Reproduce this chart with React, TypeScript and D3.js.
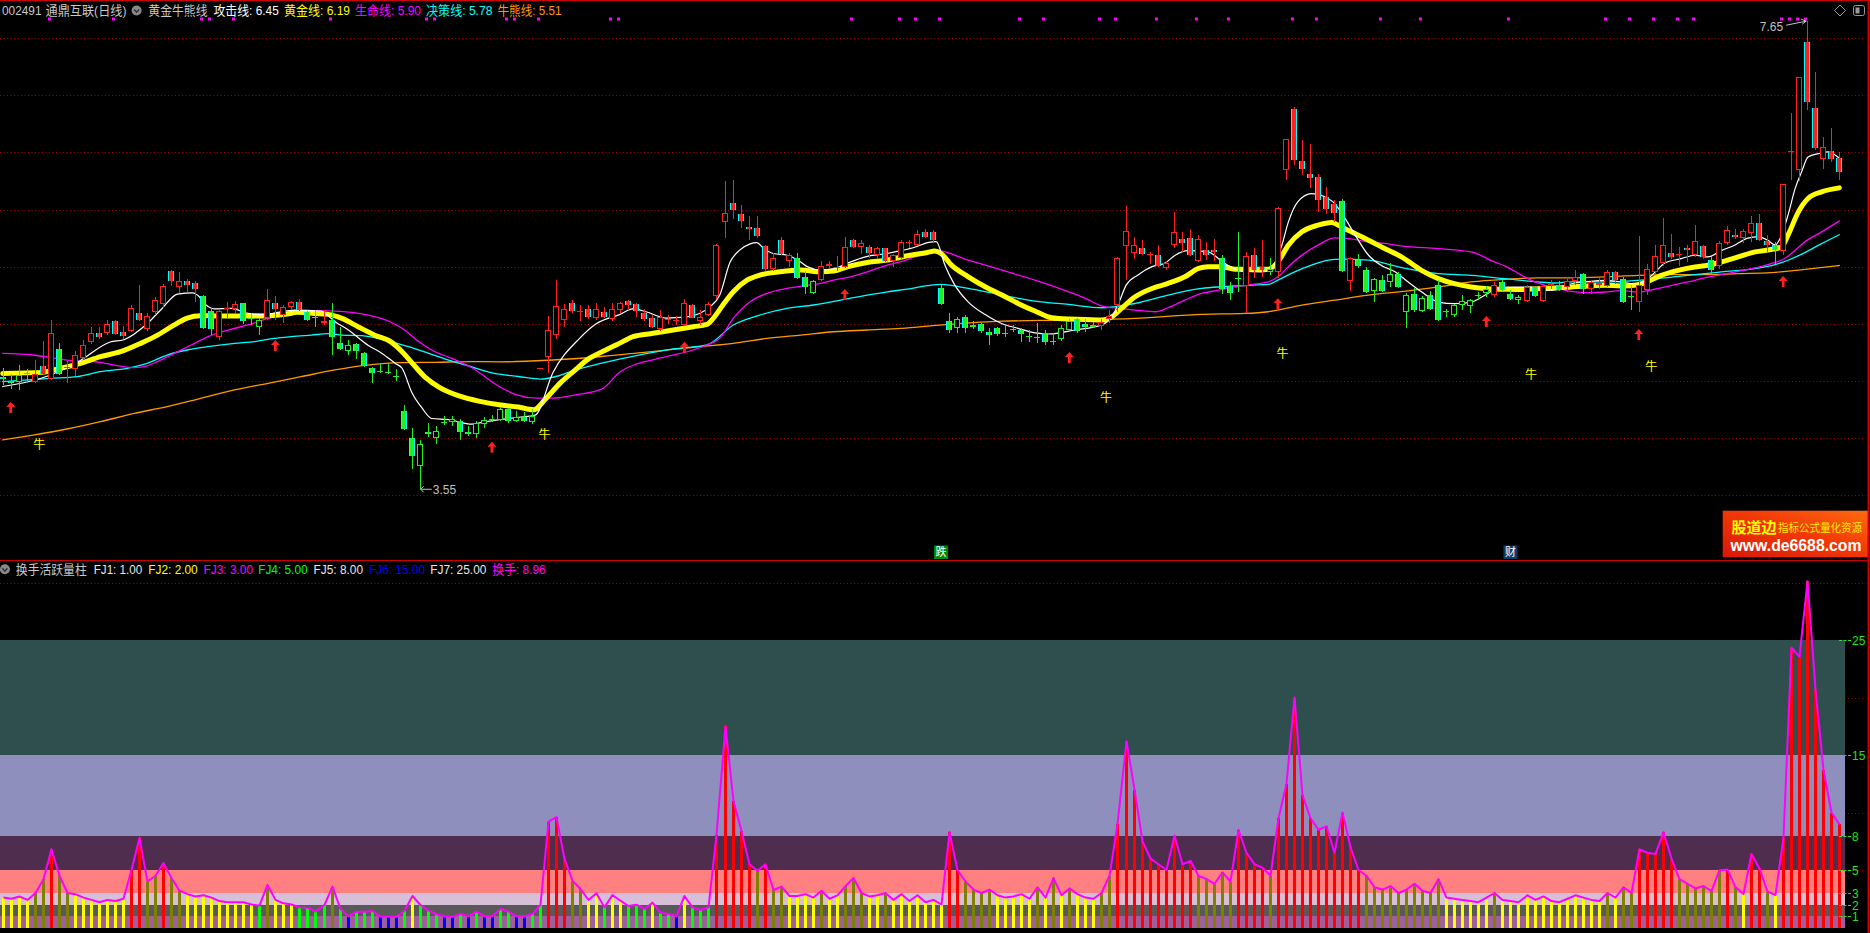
import React, { useEffect, useRef } from 'react';
import * as d3 from 'd3';

// ---------------- data ----------------
const OPEN = [
  4.53,4.50,4.49,4.57,4.49,4.63,4.52,4.78,4.61,4.60,
  4.70,4.84,4.92,4.92,5.02,4.93,4.94,5.09,4.95,5.10,
  5.17,5.46,5.32,5.37,5.36,5.24,5.11,4.88,5.13,5.13,
  5.18,5.05,4.97,5.05,5.18,5.08,5.15,5.19,5.10,5.06,
  5.01,5.03,4.83,4.76,4.82,4.74,4.61,4.59,4.58,4.54,
  4.24,4.00,3.75,4.05,4.00,4.14,4.14,4.15,4.05,4.03,
  4.12,4.17,4.16,4.25,4.15,4.18,4.14,4.60,4.71,4.90,
  5.03,5.18,5.11,5.13,5.05,5.10,5.04,5.12,5.20,5.17,
  5.09,5.05,4.95,5.04,5.03,4.99,5.16,5.02,5.08,5.24,
  5.89,6.06,5.96,5.85,5.84,5.68,5.48,5.73,5.55,5.58,
  5.41,5.27,5.38,5.51,5.50,5.50,5.73,5.67,5.67,5.60,
  5.66,5.55,5.58,5.71,5.69,5.80,5.80,5.31,5.02,4.965,
  5.06,4.97,5.00,4.925,4.965,4.92,4.95,4.945,4.895,4.886,
  4.915,4.845,4.863,4.945,5.041,4.994,4.968,4.983,5.038,5.163,
  5.682,5.621,5.659,5.615,5.606,5.484,5.694,5.738,5.755,5.551,
  5.65,5.644,5.58,5.332,5.402,5.329,5.606,5.499,5.455,5.449,
  6.347,6.883,6.423,6.309,6.283,6.108,6.047,6.073,5.376,5.557,
  5.469,5.289,5.382,5.362,5.44,5.10,5.264,5.109,5.255,5.337,
  5.11,5.079,5.167,5.155,5.249,5.272,5.255,5.366,5.264,5.205,
  5.196,5.322,5.199,5.35,5.337,5.322,5.375,5.433,5.302,5.337,
  5.331,5.454,5.395,5.24,5.19,5.293,5.454,5.535,5.62,5.615,
  5.667,5.60,5.679,5.556,5.506,5.711,5.781,5.752,5.799,5.878,
  5.726,5.687,5.635,6.51,6.345,7.471,6.886,6.442,6.512,6.448,
];
const HIGH = [
  4.61,4.56,4.64,4.60,4.68,4.85,5.03,4.83,4.67,4.76,
  4.86,4.97,4.97,5.03,5.03,4.98,5.16,5.34,5.09,5.23,
  5.35,5.47,5.45,5.39,5.37,5.25,5.14,5.12,5.19,5.20,
  5.18,5.09,5.05,5.30,5.24,5.16,5.20,5.22,5.11,5.12,
  5.12,5.18,4.97,4.86,4.83,4.75,4.62,4.65,4.66,4.60,
  4.29,4.09,3.98,4.13,4.10,4.19,4.19,4.17,4.10,4.15,
  4.18,4.20,4.27,4.26,4.24,4.23,4.25,4.61,5.07,5.38,
  5.17,5.21,5.16,5.16,5.18,5.15,5.18,5.19,5.21,5.18,
  5.13,5.08,5.12,5.08,5.07,5.22,5.17,5.12,5.19,5.70,
  6.25,6.26,6.04,5.94,5.94,5.69,5.62,5.76,5.62,5.62,
  5.46,5.38,5.55,5.55,5.59,5.76,5.74,5.73,5.69,5.67,
  5.66,5.61,5.73,5.73,5.82,5.83,5.82,5.34,5.09,5.06,
  5.075,5.02,5.01,4.96,4.97,4.99,4.99,4.96,4.945,5.01,
  4.945,4.915,4.988,5.04,5.05,5.04,5.017,5.04,5.12,5.586,
  6.03,5.76,5.73,5.63,5.688,5.548,5.98,5.80,5.834,5.78,
  5.717,5.74,5.606,5.367,5.805,5.624,5.665,5.73,5.58,6.02,
  6.62,6.90,6.606,6.577,6.315,6.198,6.082,6.096,5.586,5.615,
  5.499,5.40,5.426,5.528,5.455,5.265,5.32,5.24,5.29,5.38,
  5.13,5.176,5.255,5.22,5.28,5.331,5.366,5.38,5.293,5.255,
  5.337,5.331,5.342,5.38,5.375,5.41,5.468,5.448,5.375,5.41,
  5.468,5.46,5.41,5.342,5.766,5.527,5.687,5.927,5.79,5.673,
  5.687,5.869,5.693,5.585,5.723,5.857,5.834,5.834,5.94,5.965,
  5.775,5.717,6.22,6.842,7.16,7.65,7.202,6.638,6.717,6.50,
];
const LOW = [
  4.46,4.43,4.42,4.49,4.48,4.55,4.51,4.55,4.48,4.54,
  4.69,4.82,4.87,4.90,4.90,4.87,4.93,5.02,4.94,5.08,
  5.14,5.33,5.27,5.28,5.19,4.95,4.90,4.86,5.05,5.09,
  5.00,4.99,4.90,5.03,5.03,5.01,5.12,5.11,5.02,4.97,
  4.99,4.73,4.77,4.73,4.69,4.62,4.48,4.57,4.56,4.50,
  4.07,3.73,3.55,4.01,3.95,4.11,4.10,3.98,4.02,4.00,
  4.09,4.14,4.15,4.13,4.14,4.14,4.12,4.60,4.57,4.87,
  4.97,5.09,5.02,5.04,5.03,5.05,5.02,5.09,5.12,5.06,
  5.02,4.96,4.94,5.00,4.99,4.98,5.05,4.99,5.07,5.22,
  5.75,5.92,5.84,5.73,5.75,5.46,5.46,5.60,5.50,5.39,
  5.26,5.26,5.37,5.48,5.46,5.49,5.66,5.61,5.58,5.57,
  5.54,5.50,5.57,5.66,5.68,5.75,5.72,5.16,4.92,4.915,
  4.915,4.95,4.915,4.81,4.895,4.88,4.924,4.84,4.837,4.83,
  4.81,4.81,4.85,4.936,4.915,4.924,4.959,4.945,5.01,5.105,
  5.382,5.571,5.606,5.519,5.499,5.469,5.659,5.63,5.595,5.542,
  5.557,5.551,5.257,5.207,5.274,5.09,5.397,5.41,5.43,5.397,
  6.257,6.394,6.30,6.19,5.98,5.965,5.89,5.455,5.286,5.49,
  5.265,5.19,5.274,5.324,5.315,4.959,5.10,5.10,5.117,5.02,
  5.06,5.059,5.117,5.09,5.22,5.234,5.234,5.28,5.205,5.176,
  5.19,5.234,5.19,5.30,5.284,5.28,5.342,5.264,5.264,5.302,
  5.322,5.351,5.184,5.117,5.103,5.249,5.44,5.506,5.57,5.51,
  5.54,5.585,5.57,5.424,5.483,5.687,5.746,5.711,5.717,5.723,
  5.63,5.527,5.606,6.258,6.249,6.87,6.52,6.351,6.418,6.258,
];
const CLOSE = [
  4.52,4.48,4.55,4.56,4.56,4.56,4.92,4.56,4.62,4.73,
  4.81,4.92,4.88,5.00,4.91,4.89,5.14,5.03,5.07,5.21,
  5.33,5.37,5.37,5.34,5.30,4.96,4.95,5.11,5.14,5.17,
  5.02,5.04,5.03,5.21,5.13,5.15,5.19,5.12,5.03,5.06,
  5.02,4.88,4.78,4.81,4.76,4.63,4.57,4.59,4.58,4.53,
  4.08,3.84,3.95,4.03,4.06,4.13,4.17,4.05,4.03,4.13,
  4.16,4.17,4.25,4.15,4.18,4.15,4.19,4.61,4.945,5.155,
  5.13,5.11,5.11,5.06,5.13,5.06,5.13,5.18,5.16,5.11,
  5.04,4.97,5.06,5.04,5.03,5.18,5.05,5.06,5.17,5.69,
  5.97,6.00,5.90,5.83,5.77,5.48,5.58,5.61,5.60,5.40,
  5.32,5.37,5.51,5.52,5.50,5.67,5.67,5.71,5.62,5.66,
  5.55,5.60,5.72,5.72,5.79,5.76,5.73,5.17,4.945,5.04,
  4.96,4.99,4.94,4.90,4.907,4.92,4.95,4.91,4.89,4.886,
  4.837,4.843,4.959,5.026,4.936,4.968,4.988,5.017,5.067,5.58,
  5.81,5.694,5.615,5.612,5.507,5.536,5.805,5.711,5.601,5.746,
  5.606,5.624,5.30,5.265,5.40,5.589,5.475,5.472,5.478,6.017,
  6.615,6.431,6.359,6.28,6.082,6.003,5.974,5.461,5.58,5.507,
  5.274,5.388,5.289,5.44,5.324,5.25,5.117,5.225,5.132,5.03,
  5.109,5.167,5.196,5.205,5.249,5.302,5.342,5.299,5.22,5.234,
  5.322,5.243,5.331,5.351,5.293,5.372,5.41,5.307,5.366,5.36,
  5.454,5.38,5.19,5.24,5.342,5.483,5.591,5.687,5.585,5.614,
  5.644,5.723,5.585,5.468,5.711,5.825,5.761,5.81,5.878,5.737,
  5.693,5.644,6.22,6.506,7.158,6.945,6.541,6.544,6.439,6.331,
];
// candle tone: r = red, g = green
const TONE = [
  'ggggrrrgrr','rrrrrrrrrr','rrrrrggrrr','gggrrrrrgg','rggggggggg',
  'gggggggggg','gggggggrrr','rrrrrrrrrr','rrrrrrrrrr','rrrrrrrrrg',
  'ggrrrrrrrr','rrrrrrrggg','gggggggggg','gggggggrrr','rrrrrrrrrr',
  'rrgggrrrgr','rrrrrrrgrg','gggggggggg','ggggggrggg','rgrrgrrgrr',
  'rrggrrrrrr','rrrgrrrrrr','rgrrrrrrrr',
].join('');

const TURNOVER = [
  2.6,2.5,2.7,2.4,3.0,4.2,6.8,4.5,3.0,2.9,
  2.6,2.4,2.2,2.4,2.3,2.5,5.0,7.8,4.0,4.5,
  5.6,4.3,3.2,2.9,2.7,2.8,2.6,2.3,2.2,2.2,
  2.2,2.0,1.9,3.7,2.4,2.1,2.0,1.75,1.72,1.38,
  1.96,3.55,1.61,0.98,1.38,1.38,1.44,0.94,0.94,0.94,
  1.46,2.74,1.96,1.46,1.15,0.98,0.94,1.17,0.99,1.38,
  0.97,0.99,1.61,1.38,0.97,0.99,1.17,1.96,9.2,9.6,
  5.96,4.07,3.35,2.39,2.98,1.75,2.82,2.33,1.87,1.98,
  1.61,2.16,1.29,1.17,0.99,2.74,1.75,1.52,1.75,8.04,
  17.5,11.0,8.39,5.49,4.94,5.49,3.26,3.55,2.74,2.74,
  2.9,2.6,3.2,2.5,2.8,3.6,4.3,3.0,2.7,2.8,
  3.0,2.4,2.9,2.3,2.8,2.2,2.4,2.0,8.3,5.0,
  4.0,3.3,3.0,3.3,2.8,2.6,2.7,2.9,2.5,3.5,
  2.6,4.3,2.8,3.4,2.9,2.6,2.5,3.0,4.5,9.0,
  16.2,12.0,7.5,6.0,5.5,5.0,8.0,5.5,5.8,4.5,
  4.2,3.8,4.8,4.0,8.5,6.5,5.5,5.2,4.5,9.5,
  12.5,20.0,11.5,9.5,8.5,8.8,6.5,10.0,7.0,5.0,
  4.5,3.5,3.3,3.6,3.0,3.3,3.8,3.2,3.0,4.2,
  2.6,2.5,2.4,2.3,2.2,2.6,3.0,2.4,2.3,2.2,
  2.8,2.4,2.7,2.3,2.2,2.5,2.8,2.6,2.4,2.3,
  3.0,2.6,3.5,3.0,6.8,6.5,6.4,8.3,6.0,4.2,
  3.8,3.4,3.61,3.17,4.98,5.05,3.49,2.91,6.39,5.14,
  3.12,2.83,7.81,24.33,23.55,30.1,20.71,13.7,10.0,8.96,
];

// indicator lines: [bar index, price]
const WHITE_LINE: [number, number][] = [
  [0,4.45],[4.7,4.52],[9.5,4.67],[13.4,4.84],[15.1,4.86],[18,5.0],[19.7,5.12],[21.8,5.26],[23.7,5.27],[24.3,5.25],
  [25.6,5.15],[26.4,5.13],[28.5,5.135],[30.6,5.09],[32.7,5.08],[34.3,5.1],[36.4,5.12],[39.7,5.11],[41.4,5.02],[43.1,4.945],
  [45.6,4.81],[47.3,4.74],[49,4.65],[49.8,4.61],[51,4.4],[52.3,4.26],[53.5,4.17],[55.6,4.16],[58.5,4.12],[60,4.14],
  [64.3,4.18],[66.4,4.2],[68.6,4.57],[71.9,4.87],[74,5.0],[76.9,5.08],[78.6,5.13],[80.2,5.105],[82.7,5.05],[85.3,5.06],
  [88.2,5.15],[89.4,5.25],[90.7,5.54],[91.9,5.645],[93.2,5.7],[94,5.71],[94.9,5.66],[96.1,5.615],[97.8,5.6],[99.5,5.54],
  [100.3,5.5],[102,5.47],[103.6,5.48],[105.3,5.53],[107.8,5.59],[110.3,5.615],[112,5.64],[113.7,5.67],[115.3,5.71],[116.4,5.72],
  [117.5,5.51],[118.7,5.34],[120.4,5.19],[122.5,5.08],[124.6,5.0],[126.6,4.96],[128.7,4.92],[130.4,4.91],[133.7,4.945],[137,4.99],
  [138.3,5.06],[139.2,5.19],[140.1,5.34],[141.6,5.43],[143.3,5.5],[144.9,5.53],[146.2,5.6],[147.8,5.64],[150.3,5.63],[151.6,5.57],
  [152.8,5.51],[154.5,5.46],[157,5.455],[158.2,5.48],[159.5,5.69],[160.3,5.89],[161.5,6.07],[163.2,6.14],[164.4,6.125],[166.1,6.05],
  [167.4,5.92],[168.6,5.78],[170.3,5.6],[171.9,5.51],[173.6,5.455],[174.8,5.39],[176.9,5.28],[179,5.19],[181,5.176],[183.1,5.19],
  [184.8,5.25],[186.4,5.31],[188.5,5.32],[190.6,5.32],[192.3,5.29],[193.9,5.3],[195.6,5.35],[197.7,5.37],[199.8,5.38],[201.4,5.37],
  [203.5,5.35],[204.7,5.37],[206,5.45],[207.2,5.53],[209.3,5.57],[211,5.6],[212.6,5.585],[214.3,5.64],[216,5.69],[217.6,5.75],
  [218.9,5.76],[220.1,5.73],[221,5.69],[221.8,5.775],[222.6,5.95],[223.5,6.185],[224.3,6.33],[225.1,6.46],[226.4,6.49],[227.6,6.506],
  [229,6.45],
];
const YELLOW_LINE: [number, number][] = [
  [0,4.565],[5,4.574],[6.3,4.595],[9.7,4.653],[12.2,4.712],[14.7,4.755],[17.2,4.828],[19.3,4.9],[21.4,4.99],[23,5.05],
  [24.7,5.07],[26.8,5.068],[28.9,5.068],[31.4,5.068],[33.1,5.07],[35.2,5.082],[36.8,5.1],[38.9,5.09],[40.6,5.082],[42.3,5.047],
  [44.3,4.974],[46.4,4.9],[48.5,4.837],[49.8,4.755],[51,4.66],[52.7,4.53],[54.5,4.44],[56.8,4.37],[59.5,4.32],[61.9,4.29],
  [64.3,4.27],[66.2,4.246],[67.6,4.334],[69.5,4.48],[71.4,4.596],[73,4.69],[75.2,4.77],[76.9,4.828],[78.6,4.887],[81.1,4.916],
  [83.6,4.945],[86.1,4.974],[87.8,4.994],[88.6,5.047],[89.8,5.164],[91.1,5.28],[92.8,5.382],[94.4,5.426],[96.9,5.455],[99.5,5.47],
  [102,5.455],[103.6,5.461],[105.3,5.499],[107.8,5.537],[110.3,5.557],[112.8,5.595],[115.3,5.624],[116.2,5.636],[117,5.615],[118.3,5.513],
  [120.4,5.411],[122.5,5.324],[124.6,5.251],[126.6,5.178],[128.7,5.111],[130.8,5.052],[132.9,5.041],[135,5.038],[137,5.032],[138.3,5.061],
  [139.5,5.134],[141.2,5.236],[143.3,5.309],[145.3,5.353],[147.4,5.411],[149.1,5.484],[150.3,5.499],[152,5.499],[153.6,5.478],[155.7,5.478],
  [157.8,5.478],[159,5.542],[160.3,5.688],[162,5.805],[164,5.863],[165.7,5.886],[166.9,5.848],[168.6,5.79],[170.3,5.732],[172.3,5.659],
  [174.4,5.586],[176.9,5.468],[179,5.395],[181,5.351],[183.1,5.322],[185.2,5.307],[187.3,5.302],[189.4,5.299],[191.4,5.307],[193.5,5.313],
  [195.6,5.322],[197.7,5.331],[199.8,5.337],[201.8,5.331],[203.9,5.342],[205.2,5.372],[206.8,5.424],[208.9,5.468],[211,5.497],[212.6,5.512],
  [214.3,5.541],[216.4,5.585],[218.5,5.629],[220.5,5.65],[221.8,5.673],[222.6,5.775],[223.9,5.98],[225.1,6.097],[226.8,6.155],[229,6.19],
];
const MAGENTA_LINE: [number, number][] = [
  [0,4.74],[3.8,4.726],[8,4.682],[12.2,4.662],[14.3,4.633],[16.4,4.615],[17.6,4.624],[19.3,4.668],[21.4,4.741],[23.5,4.814],
  [25.6,4.887],[28.1,4.945],[30.6,4.989],[33.1,5.047],[35.2,5.082],[37.2,5.106],[39.7,5.114],[41.4,5.111],[43.5,5.1],[45.6,5.076],
  [48.1,5.024],[49.8,4.96],[51.9,4.843],[53.9,4.755],[56,4.697],[58.5,4.615],[61.9,4.45],[64,4.38],[66.7,4.348],[68.6,4.348],
  [71.4,4.377],[74.7,4.427],[77,4.58],[82,4.7],[86.1,4.77],[87.8,4.814],[89.4,4.872],[91.1,5.047],[93.2,5.193],[95.3,5.266],
  [97.8,5.309],[99.9,5.333],[102,5.353],[103.6,5.382],[105.7,5.411],[107.8,5.455],[110.3,5.513],[112,5.543],[113.7,5.586],[115.3,5.624],
  [116.3,5.644],[120.4,5.557],[124.6,5.469],[128.7,5.382],[132.9,5.28],[135,5.222],[137,5.157],[139.1,5.134],[141.2,5.12],[143.7,5.105],
  [145.3,5.14],[147.4,5.207],[149.5,5.265],[151.6,5.294],[153.6,5.324],[155.7,5.344],[157.8,5.367],[159,5.411],[160.3,5.499],[162,5.601],
  [164,5.688],[166.1,5.752],[167.8,5.746],[170.3,5.717],[172.3,5.703],[174.6,5.68],[179,5.658],[183.1,5.629],[186,5.541],[187.3,5.506],
  [189.4,5.424],[190.6,5.38],[192.3,5.337],[194.3,5.302],[195.6,5.284],[197.7,5.272],[199.8,5.278],[201.8,5.29],[203.9,5.278],[206,5.302],
  [208.1,5.337],[210.1,5.366],[212.2,5.401],[214.3,5.43],[216.4,5.459],[218.5,5.489],[220.5,5.527],[222.2,5.571],[223.5,5.644],[224.7,5.717],
  [226.8,5.805],[229,5.9],
];
const CYAN_LINE: [number, number][] = [
  [0,4.493],[5.9,4.522],[9.3,4.536],[12.2,4.58],[15.5,4.609],[18,4.653],[20.5,4.726],[23,4.77],[25.6,4.799],[28.9,4.828],
  [31.4,4.843],[33.9,4.872],[36,4.887],[38.5,4.901],[40.6,4.913],[42.3,4.901],[44.8,4.895],[47.7,4.857],[50.6,4.799],[53.1,4.741],
  [55.6,4.682],[58.1,4.63],[61,4.57],[64.3,4.538],[67.1,4.515],[69,4.538],[71.4,4.596],[74.7,4.654],[79,4.72],[83.6,4.779],
  [87.8,4.814],[91.1,4.989],[94.4,5.076],[97.8,5.134],[101.1,5.164],[104.5,5.207],[107.8,5.251],[110.3,5.28],[112.8,5.303],[115.3,5.333],
  [117,5.344],[120.4,5.309],[124.6,5.251],[128.7,5.198],[132.9,5.169],[137,5.14],[141.2,5.178],[145.3,5.251],[149.5,5.309],[152,5.324],
  [155.7,5.338],[157.8,5.344],[159,5.382],[161.1,5.455],[163.2,5.513],[165.3,5.557],[166.9,5.566],[170.3,5.557],[174.6,5.49],[179,5.439],
  [183.1,5.424],[187.3,5.395],[191.4,5.366],[193.5,5.357],[195.6,5.366],[199.8,5.366],[203.9,5.38],[206.4,5.395],[210.1,5.424],[214.3,5.454],
  [218.5,5.483],[221,5.518],[222.6,5.556],[224.7,5.623],[226.8,5.702],[229,5.78],
];
const ORANGE_LINE: [number, number][] = [
  [0,3.982],[3.8,4.025],[8,4.078],[12.2,4.142],[16.4,4.215],[20.5,4.274],[24.7,4.347],[28.9,4.42],[33.1,4.478],[37.2,4.536],
  [41.4,4.595],[44.8,4.633],[47.7,4.653],[49.8,4.659],[53.9,4.662],[58.5,4.668],[61.9,4.666],[68,4.68],[74.7,4.713],[80,4.75],
  [87,4.799],[91.1,4.828],[95.3,4.872],[99.5,4.901],[103.6,4.93],[107.8,4.945],[112,4.959],[117.2,4.99],[124.6,5.023],[132.9,5.032],
  [141.2,5.047],[149.5,5.082],[154.9,5.09],[157.8,5.105],[162,5.163],[166.1,5.207],[170.3,5.251],[175,5.285],[179,5.322],[183.1,5.366],
  [187.3,5.389],[191.4,5.401],[195.6,5.401],[199.8,5.41],[203.9,5.424],[208.1,5.43],[212.2,5.43],[216.4,5.439],[220.5,5.448],[224.7,5.477],
  [229,5.51],
];

// signal marks: [bar index, price]
const UP_ARROWS: [number, number][] = [
  [1,4.314],[34,4.857],[61,3.967],[85,4.842],[105,5.304],[133,4.752],[159,5.224],[185,5.067],[204,4.954],[222,5.418],
];
const NIU_MARKS: [number, number][] = [
  [4,3.95],[67,4.043],[137,4.367],[159,4.752],[190,4.568],[205,4.63],
];
const TOP_DOTS = [6,14,25,26,29,41,53,54,63,64,67,76,77,106,112,114,117,127,130,137,139,144,149,153,161,164,172,177,188,200,203,206,209,211,222,223,224,225];
const BADGE_IDX = [117, 188];
const BADGE_TEXT = ['跌', '财'];

const PRICE_GRID = [3.5, 4, 4.5, 5, 5.5, 6, 6.5, 7, 7.5];
const FJ_LEVELS = [1, 2, 3, 5, 8, 15, 25];
const VOL_GRID = [5, 10, 20, 30];

const STOCK_CODE = '002491';
const STOCK_NAME = '通鼎互联(日线)';
const IND1_NAME = '黄金牛熊线';
const IND2_NAME = '换手活跃量柱';

// ---------------- layout ----------------
const W = 1870, H = 933;
const FONT = "'Liberation Sans', Arial, 'Noto Sans CJK SC', sans-serif";
const CJK = "'Noto Sans CJK SC', 'Liberation Sans', sans-serif";

export default function App() {
  const ref = useRef<SVGSVGElement>(null);

  useEffect(() => {
    const svg = d3.select(ref.current);
    svg.selectAll('*').remove();
    const N = OPEN.length;

    const x = d3.scaleLinear().domain([0, N - 1]).range([2.7, 1839.3]);
    const y = d3.scaleLinear().domain([3.5, 7.5]).range([495, 38.3]);
    const yv = d3.scaleLinear().domain([0, 25]).range([927.5, 640]);

    svg.append('rect').attr('width', W).attr('height', H).attr('fill', '#000');

    // ---------- top panel grid ----------
    svg.append('g').selectAll('line').data(PRICE_GRID).join('line')
      .attr('x1', 0).attr('x2', 1866)
      .attr('y1', d => Math.round(y(d)) + 0.5).attr('y2', d => Math.round(y(d)) + 0.5)
      .attr('stroke', '#a80000').attr('stroke-dasharray', '1 2.5');

    // ---------- indicator lines ----------
    const lineGen = d3.line<[number, number]>()
      .x(d => x(d[0])).y(d => y(d[1])).curve(d3.curveMonotoneX);
    const lines: { pts: [number, number][]; c: string; w: number }[] = [
      { pts: ORANGE_LINE, c: '#ff9900', w: 1.3 },
      { pts: CYAN_LINE, c: '#00ffff', w: 1.3 },
      { pts: MAGENTA_LINE, c: '#ff00ff', w: 1.3 },
      { pts: YELLOW_LINE, c: '#ffff00', w: 5 },
      { pts: WHITE_LINE, c: '#ffffff', w: 1.2 },
    ];
    svg.append('g').selectAll('path').data(lines).join('path')
      .attr('d', d => lineGen(d.pts))
      .attr('fill', 'none').attr('stroke', d => d.c).attr('stroke-width', d => d.w)
      .attr('stroke-linejoin', 'round').attr('stroke-linecap', 'round');

    // ---------- candles ----------
    const cg = svg.append('g').attr('shape-rendering', 'crispEdges');
    for (let i = 0; i < N; i++) {
      const cx = Math.round(x(i));
      const o = OPEN[i], c = CLOSE[i];
      const col = TONE[i] === 'r' ? '#ff2020' : '#22ee22';
      cg.append('line').attr('x1', cx + 0.5).attr('x2', cx + 0.5)
        .attr('y1', y(HIGH[i])).attr('y2', y(LOW[i])).attr('stroke', col);
      const top = Math.round(y(Math.max(o, c)));
      const bot = Math.round(y(Math.min(o, c)));
      const h = bot - top;
      if (h < 2) {
        cg.append('rect').attr('x', cx - 3).attr('y', top).attr('width', 6).attr('height', 1).attr('fill', col);
      } else if (c >= o) {
        cg.append('rect').attr('x', cx - 2.5).attr('y', top + 0.5).attr('width', 5).attr('height', h - 1)
          .attr('fill', '#000').attr('stroke', col);
      } else {
        cg.append('rect').attr('x', cx - 3).attr('y', top).attr('width', 6).attr('height', h).attr('fill', '#00ffff');
        cg.append('rect').attr('x', cx - 2).attr('y', top).attr('width', 4).attr('height', h).attr('fill', col);
      }
    }

    // ---------- signal marks ----------
    const ag = svg.append('g').attr('fill', '#ff2020');
    UP_ARROWS.forEach(([i, p]) => {
      const cx = x(i), t = y(p);
      ag.append('path').attr('d',
        `M${cx},${t} L${cx + 4.5},${t + 5} L${cx + 1.4},${t + 5} L${cx + 1.4},${t + 11} L${cx - 1.4},${t + 11} L${cx - 1.4},${t + 5} L${cx - 4.5},${t + 5} Z`);
    });
    svg.append('g').selectAll('text').data(NIU_MARKS).join('text')
      .attr('x', d => x(d[0]) - 1.5).attr('y', d => y(d[1]))
      .attr('dominant-baseline', 'central')
      .attr('font-family', CJK).attr('font-size', 12).attr('fill', '#ffff00')
      .text('牛');
    svg.append('g').selectAll('rect').data(TOP_DOTS).join('rect')
      .attr('x', d => Math.round(x(d)) - 3).attr('y', 17.5).attr('width', 3).attr('height', 3)
      .attr('fill', '#ff00ff');

    // high / low labels
    const hiIdx = d3.maxIndex(HIGH), loIdx = d3.minIndex(LOW);
    const hx = x(hiIdx), hy = y(HIGH[hiIdx]);
    svg.append('line').attr('x1', hx - 21).attr('y1', hy + 4).attr('x2', hx - 1).attr('y2', hy)
      .attr('stroke', '#c0c0c0');
    svg.append('path').attr('d', `M${hx - 1},${hy} L${hx - 6},${hy - 2} M${hx - 1},${hy} L${hx - 5},${hy + 3}`)
      .attr('stroke', '#c0c0c0').attr('fill', 'none');
    svg.append('text').attr('x', hx - 24).attr('y', hy + 10).attr('text-anchor', 'end')
      .attr('font-family', FONT).attr('font-size', 12).attr('fill', '#c0c0c0')
      .text(HIGH[hiIdx].toFixed(2));
    const lx = x(loIdx), ly = y(LOW[loIdx]);
    svg.append('path').attr('d', `M${lx + 1},${ly} L${lx + 12},${ly} M${lx + 1},${ly} L${lx + 4},${ly - 3} M${lx + 1},${ly} L${lx + 4},${ly + 3}`)
      .attr('stroke', '#c0c0c0').attr('fill', 'none');
    svg.append('text').attr('x', lx + 13).attr('y', ly + 5)
      .attr('font-family', FONT).attr('font-size', 12).attr('fill', '#c0c0c0')
      .text(LOW[loIdx].toFixed(2));

    // badges
    BADGE_IDX.forEach((bi, k) => {
      const cx = x(bi);
      svg.append('rect').attr('x', cx - 7).attr('y', 545.5).attr('width', 14).attr('height', 13.5)
        .attr('fill', k === 0 ? '#008a00' : '#0c3c6c');
      svg.append('text').attr('x', cx).attr('y', 556.2).attr('text-anchor', 'middle')
        .attr('font-family', CJK).attr('font-size', 11).attr('fill', '#ffffff').text(BADGE_TEXT[k]);
    });

    // ---------- frames ----------
    svg.append('line').attr('x1', 0).attr('x2', W).attr('y1', 0.5).attr('y2', 0.5).attr('stroke', '#cc0000');
    svg.append('line').attr('x1', 0).attr('x2', 1868).attr('y1', 560.5).attr('y2', 560.5).attr('stroke', '#cc0000');
    svg.append('line').attr('x1', 1868.5).attr('x2', 1868.5).attr('y1', 0).attr('y2', H).attr('stroke', '#cc0000').attr('stroke-width', 2);

    // top-right icons
    svg.append('path').attr('d', 'M1840,5 L1845.5,10.5 L1840,16 L1834.5,10.5 Z').attr('fill', 'none').attr('stroke', '#9a9a9a');
    svg.append('rect').attr('x', 1853.5).attr('y', 5.5).attr('width', 11).attr('height', 10).attr('rx', 2)
      .attr('fill', 'none').attr('stroke', '#9a9a9a');
    svg.append('rect').attr('x', 1855.5).attr('y', 7.5).attr('width', 4).attr('height', 6).attr('fill', '#9a9a9a');

    // ---------- headers ----------
    const lastOf = (a: [number, number][]) => a[a.length - 1][1].toFixed(2);
    const topHeader = [
      { t: STOCK_CODE, x: 2, w: 39.5, c: '#c8c8c8' },
      { t: STOCK_NAME, x: 45.5, w: 81, c: '#c8c8c8' },
      { t: IND1_NAME, x: 148.3, w: 59.3, c: '#c8c8c8' },
      { t: `攻击线: ${lastOf(WHITE_LINE)}`, x: 213.5, w: 65.3, c: '#ffffff' },
      { t: `黄金线: ${lastOf(YELLOW_LINE)}`, x: 284, w: 66, c: '#ffff00' },
      { t: `生命线: ${lastOf(MAGENTA_LINE)}`, x: 355, w: 66, c: '#ff00ff' },
      { t: `决策线: ${lastOf(CYAN_LINE)}`, x: 426, w: 66.4, c: '#00ffff' },
      { t: `牛熊线: ${lastOf(ORANGE_LINE)}`, x: 497.4, w: 64, c: '#ff9900' },
    ];
    svg.append('g').selectAll('text').data(topHeader).join('text')
      .attr('x', d => d.x).attr('y', 14.5)
      .attr('textLength', d => d.w).attr('lengthAdjust', 'spacingAndGlyphs')
      .attr('font-family', FONT).attr('font-size', 13).attr('fill', d => d.c)
      .text(d => d.t);
    const icon = (cx: number, cy: number) => {
      svg.append('circle').attr('cx', cx).attr('cy', cy).attr('r', 5).attr('fill', '#8a8a8a');
      svg.append('path').attr('d', `M${cx - 2.5},${cy - 1} L${cx},${cy + 1.8} L${cx + 2.5},${cy - 1}`)
        .attr('fill', 'none').attr('stroke', '#303030').attr('stroke-width', 1.4);
    };
    icon(136.6, 10.5);

    const fjColors = ['#e8e8e8', '#ffff00', '#ff00ff', '#00ff00', '#e8e8e8', '#0000ff', '#e8e8e8'];
    const fjX = [93.7, 148.3, 203.6, 258.2, 313.6, 369, 430.2];
    const fjW = [48.6, 49.4, 49.4, 49.4, 49.4, 56, 56.2];
    const botHeader = [
      { t: IND2_NAME, x: 15.8, w: 71, c: '#c8c8c8' },
      ...FJ_LEVELS.map((v, k) => ({ t: `FJ${k + 1}: ${v.toFixed(2)}`, x: fjX[k], w: fjW[k], c: fjColors[k] })),
      { t: `换手: ${TURNOVER[TURNOVER.length - 1].toFixed(2)}`, x: 492.3, w: 53.4, c: '#ff00ff' },
    ];
    svg.append('g').selectAll('text').data(botHeader).join('text')
      .attr('x', d => d.x).attr('y', 573.5)
      .attr('textLength', d => d.w).attr('lengthAdjust', 'spacingAndGlyphs')
      .attr('font-family', FONT).attr('font-size', 13).attr('fill', d => d.c)
      .text(d => d.t);
    icon(4.9, 569.3);

    // ---------- bottom panel ----------
    svg.append('g').selectAll('line').data(VOL_GRID).join('line')
      .attr('x1', 0).attr('x2', 1866)
      .attr('y1', d => Math.round(yv(d)) + 0.5).attr('y2', d => Math.round(yv(d)) + 0.5)
      .attr('stroke', '#a80000').attr('stroke-dasharray', '1 2.5');

    const bandLevels = [0, ...FJ_LEVELS];
    const bandColors = ['#9f5f9f', '#595959', '#d8bfd8', '#ff8080', '#4f2d4f', '#8f8fbd', '#2f4f4f'];
    const bands = bandColors.map((c, k) => ({ lo: bandLevels[k], hi: bandLevels[k + 1], c }));
    svg.append('g').attr('shape-rendering', 'crispEdges').selectAll('rect').data(bands).join('rect')
      .attr('x', 0).attr('width', 1845)
      .attr('y', d => yv(d.hi)).attr('height', d => yv(d.lo) - yv(d.hi))
      .attr('fill', d => d.c);

    const barColor = (v: number) => v < FJ_LEVELS[0] ? '#0000ff' : v < FJ_LEVELS[1] ? '#00ff00'
      : v < FJ_LEVELS[2] ? '#ffff00' : v < FJ_LEVELS[3] ? '#808000' : '#ff0000';
    svg.append('g').attr('shape-rendering', 'crispEdges').selectAll('rect').data(TURNOVER).join('rect')
      .attr('x', (d, i) => Math.round(x(i)) - 1).attr('width', 3)
      .attr('y', d => yv(d)).attr('height', d => yv(0) - yv(d))
      .attr('fill', d => barColor(d));

    const vLine = d3.line<number>().x((d, i) => Math.round(x(i)) + 0.5).y(d => yv(d));
    svg.append('path').attr('d', vLine(TURNOVER)).attr('fill', 'none')
      .attr('stroke', '#ff00ff').attr('stroke-width', 2).attr('stroke-linejoin', 'round');

    // right axis
    const ax = svg.append('g');
    FJ_LEVELS.forEach(v => {
      const yy = Math.round(yv(v)) + 0.5;
      ax.append('line').attr('x1', 1839).attr('x2', 1851).attr('y1', yy).attr('y2', yy)
        .attr('stroke', '#22e022').attr('stroke-dasharray', '3 1.5');
      ax.append('text').attr('x', 1852).attr('y', yy + 4.5)
        .attr('font-family', FONT).attr('font-size', 12).attr('fill', '#22e022').text(String(v));
    });

    // ---------- watermark ----------
    const defs = svg.append('defs');
    const gr = defs.append('linearGradient').attr('id', 'wm').attr('x1', '0').attr('y1', '1').attr('x2', '1').attr('y2', '0');
    gr.append('stop').attr('offset', '0').attr('stop-color', '#d81808');
    gr.append('stop').attr('offset', '0.55').attr('stop-color', '#f23a06');
    gr.append('stop').attr('offset', '1').attr('stop-color', '#ff6a10');
    svg.append('rect').attr('x', 1722.7).attr('y', 510.7).attr('width', 145).attr('height', 46.6).attr('fill', 'url(#wm)');
    svg.append('text').attr('x', 1731.5).attr('y', 533).attr('textLength', 45).attr('lengthAdjust', 'spacingAndGlyphs')
      .attr('font-family', CJK).attr('font-weight', 'bold').attr('font-size', 15).attr('fill', '#ffff00').text('股道边');
    svg.append('text').attr('x', 1778).attr('y', 531.5).attr('textLength', 84).attr('lengthAdjust', 'spacingAndGlyphs')
      .attr('font-family', CJK).attr('font-size', 11).attr('fill', '#ffee00').text('指标公式量化资源');
    svg.append('text').attr('x', 1730.5).attr('y', 550.5).attr('textLength', 131).attr('lengthAdjust', 'spacingAndGlyphs')
      .attr('font-family', FONT).attr('font-weight', 'bold').attr('font-size', 16).attr('fill', '#ffffff').text('www.de6688.com');
  }, []);

  return (
    <div style={{ position: 'fixed', left: 0, top: 0, width: W, height: H, background: '#000' }}>
      <svg ref={ref} width={W} height={H} style={{ display: 'block' }} />
    </div>
  );
}
